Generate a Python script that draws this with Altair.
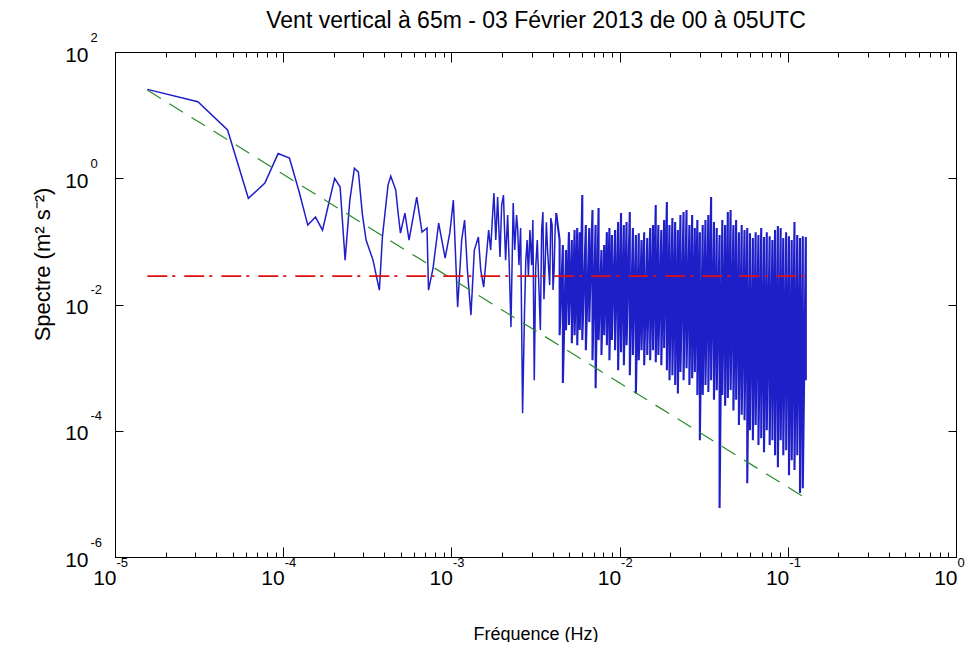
import altair as alt
import pandas as pd

# ---------------- texts ----------------
title_text = "Vent vertical à 65m - 03 Février 2013 de 00 à 05UTC"
x_title = "Fréquence (Hz)"
y_title = "Spectre (m² s⁻²)"

# ---------------- axes ----------------
x_domain = [1e-5, 1.0]
y_domain = [1e-6, 1e2]
x_major = [1e-5, 1e-4, 1e-3, 1e-2, 1e-1, 1.0]
x_minor_mult = [1, 2, 3, 4, 5, 6, 7, 8, 9]
x_decades = [-5, -4, -3, -2, -1]
y_major = [1e-6, 1e-4, 1e-2, 1.0, 1e2]

# ---------------- spectrum, low-frequency part (Hz, m2 s-2) ----------------
low_f = [
    1.556e-5, 3.11e-5, 4.67e-5, 6.21e-5, 7.78e-5, 9.33e-5, 1.089e-4, 1.245e-4, 1.40e-4, 1.556e-4,
    1.713e-4, 1.868e-4, 2.023e-4, 2.18e-4, 2.334e-4, 2.49e-4, 2.65e-4, 2.80e-4, 2.96e-4, 3.11e-4,
    3.42e-4, 3.73e-4, 3.89e-4, 4.20e-4, 4.36e-4, 4.67e-4, 4.82e-4, 4.98e-4, 5.29e-4, 5.60e-4,
    6.22e-4, 6.69e-4, 7.16e-4, 7.31e-4, 7.78e-4, 8.40e-4, 9.18e-4, 9.80e-4, 1.027e-3, 1.089e-3,
    1.151e-3, 1.198e-3, 1.245e-3, 1.307e-3, 1.369e-3, 1.447e-3, 1.494e-3, 1.556e-3, 1.665e-3, 1.712e-3,
    1.75e-3, 1.790e-3, 1.836e-3, 1.883e-3, 1.945e-3, 1.99e-3, 2.04e-3, 2.07e-3, 2.10e-3, 2.16e-3,
    2.21e-3, 2.26e-3, 2.33e-3, 2.38e-3, 2.44e-3, 2.48e-3, 2.52e-3, 2.58e-3, 2.65e-3, 2.72e-3,
    2.77e-3, 2.82e-3, 2.87e-3, 2.93e-3, 3.00e-3, 3.05e-3, 3.11e-3, 3.17e-3, 3.24e-3, 3.31e-3,
    3.38e-3, 3.44e-3, 3.50e-3, 3.55e-3, 3.61e-3, 3.67e-3, 3.73e-3, 3.84e-3, 3.90e-3, 3.97e-3,
    4.02e-3, 4.08e-3, 4.14e-3, 4.20e-3,
]
low_S = [
    25.6, 16.3, 5.81, 0.480, 0.839, 2.46, 2.09, 0.604, 0.181, 0.243,
    0.151, 0.405, 0.996, 0.726, 0.0505, 0.451, 1.44, 1.25, 0.261, 0.105,
    0.0505, 0.0169, 0.118, 0.780, 1.08, 0.650, 0.281, 0.135, 0.281, 0.105,
    0.504, 0.140, 0.163, 0.0169, 0.0377, 0.195, 0.0544, 0.140, 0.451, 0.0091,
    0.105, 0.218, 0.0351, 0.0068, 0.0728, 0.117, 0.0351, 0.0189, 0.151, 0.0728,
    0.218, 0.583, 0.105, 0.504, 0.0564, 0.376, 0.542, 0.151, 0.0505, 0.261,
    0.0377, 0.00438, 0.405, 0.0728, 0.261, 0.151, 0.0421, 0.163, 0.000190, 0.0073,
    0.0505, 0.105, 0.0281, 0.151, 0.0421, 0.218, 0.00063, 0.0377, 0.105, 0.0203,
    0.00393, 0.151, 0.291, 0.0121, 0.0421, 0.201, 0.0728, 0.0203, 0.234, 0.181,
    0.0170, 0.0351, 0.163, 0.281,
]

# ---------------- spectrum, high-frequency part: local maxima / minima ----------------
high_f = [
    0.0044, 0.0046, 0.0048, 0.0050, 0.0052, 0.0054, 0.0056, 0.0058, 0.0060, 0.0063,
    0.0066, 0.0069, 0.0072, 0.0075, 0.0078, 0.0081, 0.0084, 0.0087, 0.0090, 0.0094,
    0.0098, 0.0102, 0.0106, 0.0110, 0.0115, 0.0120, 0.0125, 0.0130, 0.0135, 0.0140,
    0.0146, 0.0152, 0.0158, 0.0164, 0.0170, 0.0177, 0.0184, 0.0191, 0.0198, 0.0206,
    0.0214, 0.0222, 0.0230, 0.0240, 0.0250, 0.0260, 0.0270, 0.0280, 0.0290, 0.0300,
    0.0312, 0.0324, 0.0337, 0.0350, 0.0364, 0.0378, 0.0393, 0.0408, 0.0424, 0.0440,
    0.0457, 0.0475, 0.0493, 0.0512, 0.0532, 0.0553, 0.0574, 0.0596, 0.0620, 0.0644,
    0.0669, 0.0695, 0.0722, 0.0750, 0.0780, 0.0810, 0.0840, 0.0873, 0.0907, 0.0940,
    0.0978, 0.1016, 0.1055, 0.1096, 0.1138, 0.1182, 0.1228, 0.1280,
]
high_peak = [
    0.105, 0.0875, 0.0728, 0.140, 0.105, 0.151, 0.163, 0.140, 0.542, 0.181,
    0.163, 0.313, 0.181, 0.337, 0.0728, 0.0875, 0.140, 0.163, 0.126, 0.151,
    0.202, 0.281, 0.181, 0.202, 0.291, 0.163, 0.126, 0.135, 0.105, 0.140,
    0.113, 0.163, 0.181, 0.376, 0.181, 0.151, 0.218, 0.420, 0.181, 0.234,
    0.202, 0.151, 0.261, 0.291, 0.313, 0.181, 0.261, 0.163, 0.218, 0.140,
    0.181, 0.218, 0.261, 0.504, 0.202, 0.163, 0.126, 0.218, 0.181, 0.291,
    0.313, 0.181, 0.218, 0.140, 0.181, 0.151, 0.163, 0.135, 0.113, 0.140,
    0.126, 0.163, 0.117, 0.140, 0.121, 0.105, 0.151, 0.175, 0.163, 0.113,
    0.140, 0.121, 0.105, 0.202, 0.126, 0.113, 0.121, 0.117,
]
high_trough = [
    0.00327, 0.00057, 0.00393, 0.00472, 0.00244, 0.00327, 0.00227, 0.00393, 0.00273, 0.00189,
    0.00526, 0.00131, 0.00047, 0.00273, 0.00158, 0.00327, 0.00227, 0.00131, 0.00273, 0.00189,
    0.00091, 0.00176, 0.00109, 0.00227, 0.00076, 0.00158, 0.00039, 0.00131, 0.00189, 0.00109,
    0.00158, 0.00131, 0.00189, 0.00122, 0.00158, 0.00109, 0.00204, 0.00091, 0.00063, 0.00076,
    0.00053, 0.00039, 0.00085, 0.00063, 0.00098, 0.00053, 0.00068, 0.00085, 0.00037, 7.1e-5,
    0.00037, 0.00053, 0.00041, 0.00063, 0.00031, 0.00044, 6.0e-6, 0.00037, 0.00025, 0.00033,
    0.00044, 0.00021, 0.00031, 1.23e-4, 1.8e-4, 1.47e-4, 1.48e-5, 1.02e-4, 7.1e-5, 1.23e-4,
    5.92e-5, 7.64e-5, 4.58e-5, 1.02e-4, 5.92e-5, 7.1e-5, 4.1e-5, 2.65e-5, 7.1e-5, 4.1e-5,
    4.93e-5, 1.98e-5, 3.42e-5, 2.38e-5, 4.1e-5, 1.03e-5, 1.23e-5, 6.3e-4,
]

# ---------------- reference lines ----------------
slope_f = [1.556e-5, 0.128]
slope_S = [25.0, 8.5e-6]
noise_f = [1.556e-5, 0.128]
noise_S = [0.0282, 0.0282]

# ---------------- tables ----------------
low_df = pd.DataFrame({"f": low_f, "S": low_S})
low_df["i"] = range(len(low_df))

rows = [(low_f[-1], low_S[-1])]
for f, hi, lo in zip(high_f, high_peak, high_trough):
    rows.append((f, hi))
    rows.append((f, lo))
high_df = pd.DataFrame(rows, columns=["f", "S"])
high_df["i"] = range(len(high_df))

slope_df = pd.DataFrame({"f": slope_f, "S": slope_S})
noise_df = pd.DataFrame({"f": noise_f, "S": noise_S})

x_minor = [m * 10.0 ** e for e in x_decades for m in x_minor_mult] + [1.0]

xs = alt.Scale(type="log", domain=x_domain, nice=False)
ys = alt.Scale(type="log", domain=y_domain, nice=False)

FONT = "Liberation Sans"
exp_expr = ("abs(log(datum.value)/LN10 - round(log(datum.value)/LN10)) < 0.001 ? "
            "'' + round(log(datum.value)/LN10) : ''")

ax_x_bottom_major = alt.Axis(
    orient="bottom", values=x_major, tickSize=10, offset=-10, domain=False, grid=False,
    labelExpr="'10'", labelFontSize=21, labelFont=FONT, labelPadding=10, labelAlign="right",
    labelOffset=1, labelBaseline="top", labelFlush=False, labelOverlap=False, labelBound=False,
    tickColor="black", labelColor="black",
    title=x_title, titleFont=FONT, titleFontSize=18, titleFontWeight="normal", titleColor="black",
    titleX=420.5, titleY=87, titleBaseline="middle", titleAlign="center",
)
ax_x_bottom_minor = alt.Axis(
    orient="bottom", values=x_minor, tickSize=5, offset=-5, domain=False, grid=False,
    labelExpr=exp_expr, labelFontSize=13, labelFont=FONT, labelPadding=-1, labelAlign="left",
    labelOffset=1, labelBaseline="top", labelFlush=False, labelOverlap=False, labelBound=False,
    tickColor="black", labelColor="black", title=None,
)
# the top axis carries the chart's title text
ax_x_top_major = alt.Axis(
    orient="top", values=x_major, tickSize=10, offset=-10, domain=False, grid=False,
    labels=False, tickColor="black",
    title=title_text, titleFont=FONT, titleFontSize=23, titleFontWeight="normal", titleColor="black",
    titleX=420.5, titleY=-42, titleBaseline="middle", titleAlign="center",
)
ax_x_top_minor = alt.Axis(
    orient="top", values=x_minor, tickSize=5, offset=-5, domain=False, grid=False,
    labels=False, tickColor="black", title=None,
)
ax_y_left_major = alt.Axis(
    orient="left", values=y_major, tickSize=8, offset=-8, domain=False, grid=False,
    labelExpr="'10'", labelFontSize=21, labelFont=FONT, labelPadding=27, labelAlign="right",
    labelBaseline="middle", labelOffset=3, labelFlush=False, labelOverlap=False, labelBound=False,
    tickColor="black", labelColor="black",
    title=y_title, titleFont=FONT, titleFontSize=22, titleFontWeight="normal", titleColor="black",
    titleX=-81, titleY=212, titleAngle=270, titleBaseline="middle", titleAlign="center",
)
ax_y_left_exp = alt.Axis(
    orient="left", values=y_major, ticks=False, tickSize=0, domain=False, grid=False,
    labelExpr="'' + round(log(datum.value)/LN10)", labelFontSize=13, labelFont=FONT,
    labelPadding=25, labelAlign="left", labelBaseline="middle", labelOffset=-15,
    labelFlush=False, labelOverlap=False, labelBound=False, labelColor="black", title=None,
)
ax_y_right = alt.Axis(
    orient="right", values=y_major, tickSize=8, offset=-8, domain=False, grid=False,
    labels=False, tickColor="black", title=None,
)

BLUE = "#1f1fc8"

low_layer = alt.Chart(low_df).mark_line(color=BLUE, strokeWidth=1.5).encode(
    x=alt.X("f:Q", scale=xs, axis=ax_x_bottom_major),
    y=alt.Y("S:Q", scale=ys, axis=ax_y_left_major),
    order=alt.Order("i:Q"),
)
high_layer = alt.Chart(high_df).mark_line(color=BLUE, strokeWidth=2.1).encode(
    x=alt.X("f:Q", scale=xs, axis=ax_x_bottom_minor),
    y=alt.Y("S:Q", scale=ys, axis=ax_y_left_exp),
    order=alt.Order("i:Q"),
)
slope_layer = alt.Chart(slope_df).mark_line(color="#2a8a2a", strokeWidth=1.2, strokeDash=[16, 10]).encode(
    x=alt.X("f:Q", scale=xs, axis=ax_x_top_major),
    y=alt.Y("S:Q", scale=ys, axis=ax_y_right),
)
noise_layer = alt.Chart(noise_df).mark_line(color="#dd1111", strokeWidth=1.6, strokeDash=[20, 5, 3, 9]).encode(
    x=alt.X("f:Q", scale=xs, axis=ax_x_top_minor),
    y=alt.Y("S:Q", scale=ys, axis=None),
)

chart = (
    alt.layer(low_layer, high_layer, slope_layer, noise_layer)
    .resolve_scale(x="shared", y="shared")
    .resolve_axis(x="independent", y="independent")
    .properties(
        width=841,
        height=505,
        autosize=alt.AutoSizeParams(type="none"),
        padding={"left": 107, "top": 44, "right": 9, "bottom": 85},
        background="white",
    )
    .configure(font=FONT)
    .configure_view(stroke="black", strokeWidth=1)
)

chart.save("out.html", embed_options={"renderer": "svg", "actions": False})
